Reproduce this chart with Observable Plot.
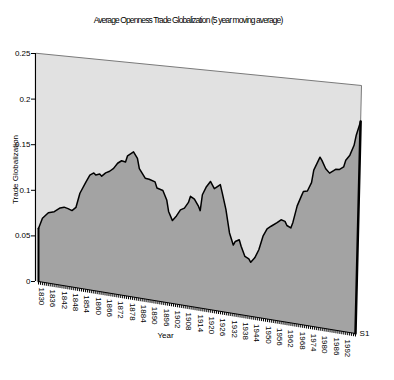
<!DOCTYPE html>
<html><head><meta charset="utf-8">
<script src="https://cdn.jsdelivr.net/npm/d3@7"></script>
<script src="https://cdn.jsdelivr.net/npm/@observablehq/plot@0.6"></script>
<style>
body{margin:0;background:#fff;}
#title{height:30px;width:394px;box-sizing:border-box;padding:13px 18px 0 0;text-align:center;font-family:"Liberation Sans",Arial,sans-serif;font-size:8.5px;letter-spacing:-0.9px;line-height:14px;white-space:nowrap;}
</style></head><body>
<div id="title">Average Openness Trade Globalization (5 year moving average)</div>
<div id="chart"></div>
<script>
const years = [1830,1832,1835,1838,1841,1843,1845,1847,1849,1851,1854,1856,1858,1859,1861,1862,1864,1866,1868,1870,1872,1874,1875,1878,1880,1881,1884,1886,1889,1890,1893,1895,1896,1898,1900,1902,1904,1906,1907,1909,1911,1912,1913,1915,1917,1919,1920,1922,1923,1925,1927,1929,1930,1932,1933,1935,1937,1938,1940,1942,1944,1946,1948,1951,1953,1955,1956,1958,1959,1961,1963,1964,1966,1968,1969,1972,1973,1975,1977,1979,1980,1982,1984,1985,1987,1989,1990,1992];
const values = [0.058,0.070,0.077,0.079,0.084,0.0855,0.0845,0.083,0.087,0.103,0.116,0.124,0.127,0.125,0.1266,0.1246,0.1287,0.131,0.1346,0.1407,0.1439,0.1431,0.150,0.155,0.1486,0.138,0.1285,0.128,0.126,0.1197,0.118,0.1085,0.0966,0.0875,0.093,0.100,0.1024,0.109,0.1157,0.1134,0.1068,0.102,0.119,0.128,0.134,0.127,0.1287,0.132,0.124,0.107,0.083,0.071,0.075,0.0774,0.071,0.061,0.059,0.0558,0.061,0.070,0.0846,0.0928,0.096,0.1005,0.104,0.103,0.099,0.097,0.103,0.1205,0.131,0.136,0.137,0.146,0.159,0.173,0.170,0.162,0.158,0.161,0.1626,0.163,0.166,0.173,0.1786,0.189,0.1997,0.2137];
const categoryYears = d3.range(1830, 1993, 1);
const labelYears = d3.range(1830, 1993, 6);
const yTicks = [0, 0.05, 0.1, 0.15, 0.2, 0.25];
const yTickLabels = ["0", "0.05", "0.1", "0.15", "0.2", "0.25"];
const seriesName = "S1";

const X0 = 1830, X1 = 1992, YMAX = 0.25;
const X_RANGE = [38, 355], Y_RANGE = [251, 23];
const pxPerYear = (X_RANGE[1] - X_RANGE[0]) / (X1 - X0);
const pxPerUnit = (Y_RANGE[0] - Y_RANGE[1]) / YMAX;
// simple perspective of the 3-D chart, expressed in data units
function proj(year, v, fwd = 0) {
  const t = (year - X0) / (X1 - X0);
  return {
    x: year + (24 * t * v - 11 * t * fwd) / pxPerYear,
    y: (v * (pxPerUnit + 80 * t) - 52 * t) / pxPerUnit
  };
}
const data = years.map((y, i) => proj(y, values[i]));
const base0 = proj(X0, 0), base1 = proj(X1, 0);
const areaPoly = [base0, ...data, base1];
const wallPoly = [proj(X0 - 1, 0), proj(X0 - 1, YMAX), proj(X1, YMAX), proj(X1, 0)];
const wallEdge = [proj(X0 - 1, YMAX), proj(X1, YMAX), proj(X1, 0)];
const ticks = categoryYears.map(y => ({p: proj(y, 0)}));

const font = "Liberation Sans, Arial, sans-serif";
const chart = Plot.plot({
  width: 394, height: 350,
  marginLeft: 35, marginRight: 39, marginTop: 23, marginBottom: 99,
  style: {fontFamily: font, fontSize: "8px", background: "white", color: "black"},
  x: {domain: [X0, X1], range: X_RANGE, axis: null},
  y: {domain: [0, YMAX], range: Y_RANGE, ticks: yTicks, tickFormat: d => yTickLabels[yTicks.indexOf(d)], tickSize: 4, tickPadding: 1, label: null},
  marks: [
    Plot.line(wallPoly, {x: "x", y: "y", fill: "#e1e1e1", stroke: "none"}),
    Plot.line(wallEdge, {x: "x", y: "y", stroke: "#7a7a7a", strokeWidth: 1}),
    Plot.line(areaPoly, {x: "x", y: "y", fill: "#a3a3a3", stroke: "none"}),
    Plot.line(data, {x: "x", y: "y", stroke: "black", strokeWidth: 1.5}),
    Plot.line([base0, data[0]], {x: "x", y: "y", stroke: "black", strokeWidth: 2}),
    Plot.line([base1, data[data.length - 1]], {x: "x", y: "y", stroke: "black", strokeWidth: 2.5}),
    Plot.line([base0, base1], {x: "x", y: "y", stroke: "black", strokeWidth: 1}),
    Plot.link(ticks, {x1: d => d.p.x, y1: d => d.p.y, x2: d => d.p.x, y2: d => d.p.y - 3 / pxPerUnit, stroke: "black", strokeWidth: 1}),
    Plot.ruleX([X0], {y1: 0, y2: YMAX, dx: -3, stroke: "black", strokeWidth: 1.2}),
    Plot.text(labelYears, {x: d => proj(d, 0, 1).x, y: d => proj(d, 0).y, text: d => String(d), rotate: 90, textAnchor: "start", lineAnchor: "middle", dx: 3, dy: 6, fontSize: 8}),
    Plot.text(["Year"], {frameAnchor: "bottom-left", dx: 130, dy: 54, textAnchor: "middle", lineAnchor: "middle", fontSize: 8}),
    Plot.text([seriesName], {frameAnchor: "bottom-right", dx: 9, dy: 52, textAnchor: "middle", lineAnchor: "middle", fontSize: 8}),
    Plot.text(["Trade Globalization"], {frameAnchor: "left", dx: -20, dy: 2, rotate: -90, textAnchor: "middle", lineAnchor: "middle", fontSize: 8})
  ]
});
document.getElementById("chart").appendChild(chart);
</script>
</body></html>
